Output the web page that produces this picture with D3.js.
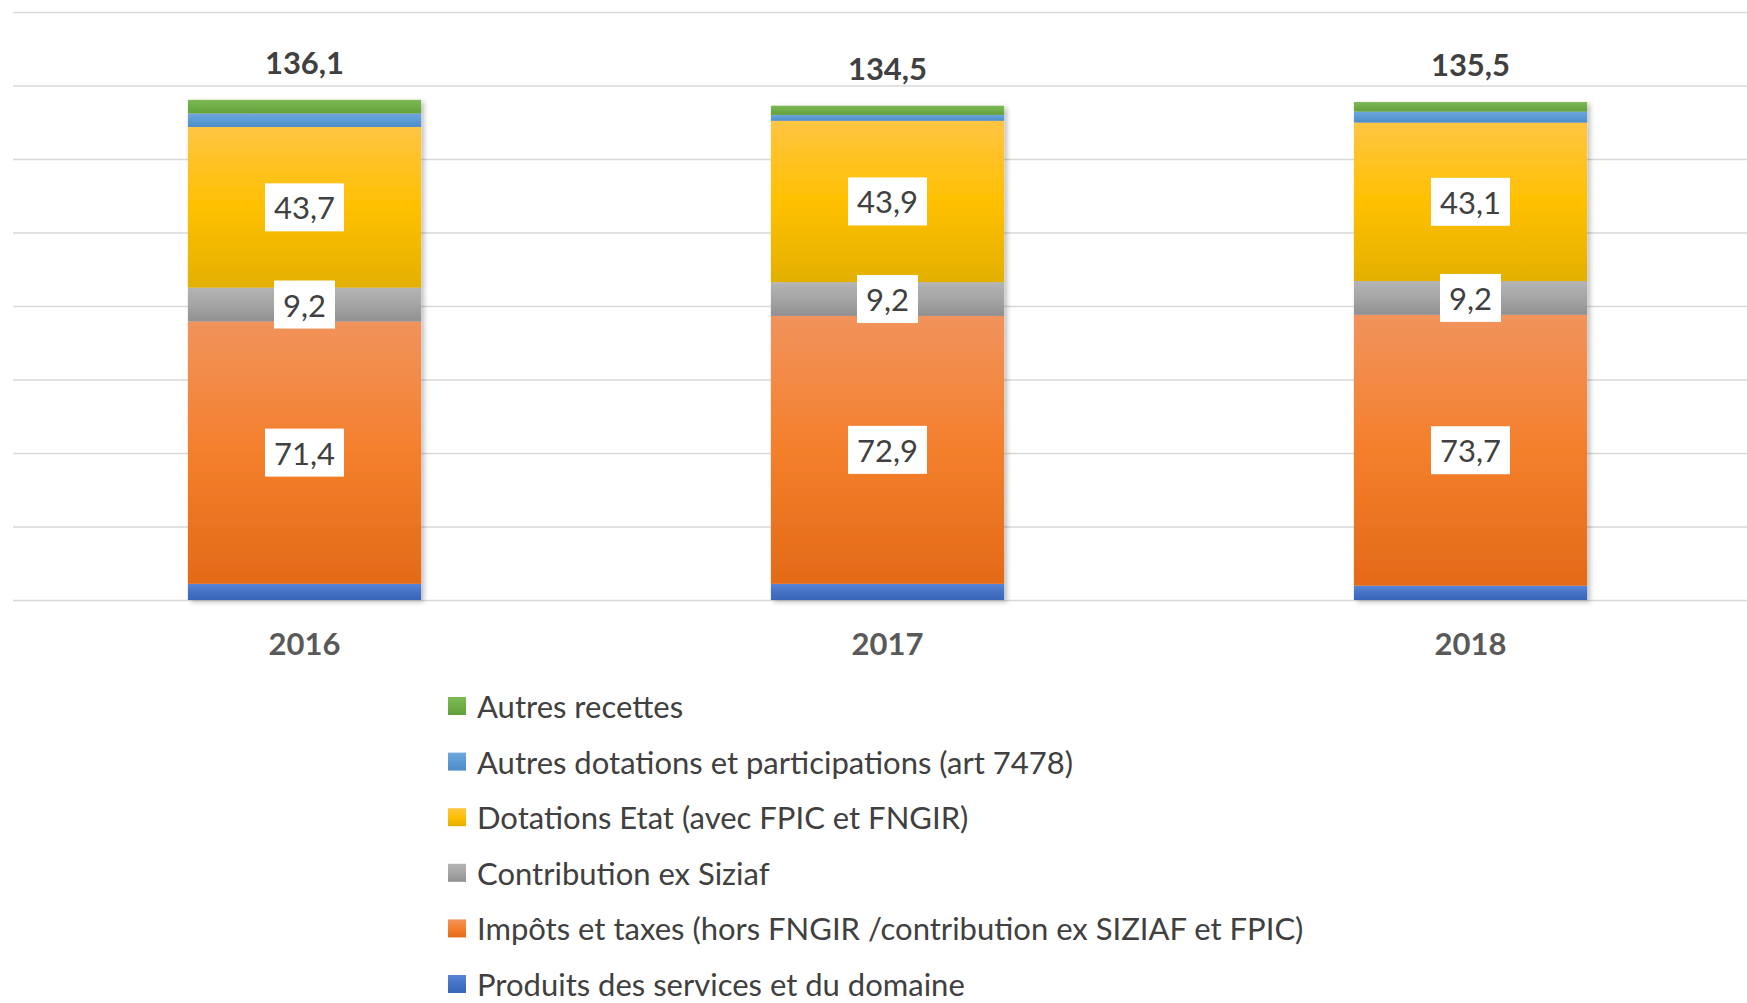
<!DOCTYPE html>
<meta charset="utf-8">
<style>
  body { margin: 0; background: #fff; }
  text { font-family: Lato, "Open Sans", sans-serif; }
</style>
<svg width="1747" height="1003"></svg>
<script src="https://d3js.org/d3.v7.min.js"></script>
<script>

    var years = ["2016", "2017", "2018"];

    // series, bottom to top
    var seriesNames = [
        "Produits des services et du domaine",
        "Impôts et taxes (hors FNGIR /contribution ex SIZIAF et FPIC)",
        "Contribution ex Siziaf",
        "Dotations Etat (avec FPIC et FNGIR)",
        "Autres dotations et participations (art 7478)",
        "Autres recettes"
    ];
    var produits = [4.4, 4.4, 3.9];
    var impots = [71.4, 72.9, 73.7];
    var siziaf = [9.2, 9.2, 9.2];
    var dotations = [43.7, 43.9, 43.1];
    var autresDot = [3.7, 1.6, 3.0];
    var autresRec = [3.7, 2.5, 2.6];
    var totals = ["136,1", "134,5", "135,5"];

    // gradient stops: top, middle, bottom
    var colors = [
        ["#5a85d6", "#4472c4", "#3864b8"],
        ["#f1935c", "#f47f2c", "#e36a17"],
        ["#b4b4b4", "#a5a5a5", "#909090"],
        ["#ffc543", "#ffc000", "#e3b000"],
        ["#6ea6dc", "#5b9bd5", "#4e8cc6"],
        ["#7cb957", "#70ad47", "#62a03b"]
    ];
    var labelled = [false, true, true, true, false, false];

    var svg = d3.select("svg"),
        width = +svg.attr("width"),
        height = +svg.attr("height");

    var allSeries = [produits, impots, siziaf, dotations, autresDot, autresRec];
    var rows = years.map(function (y, i) {
        var r = { year: y };
        allSeries.forEach(function (s, k) { r["s" + k] = s[i]; });
        return r;
    });
    var keys = allSeries.map(function (s, k) { return "s" + k; });
    var stacked = d3.stack().keys(keys)(rows);

    var x = d3.scaleBand().domain(years).range([13, 1762]).paddingInner(0.6).paddingOuter(0.3);
    var y = d3.scaleLinear().domain([0, 160]).range([600, 12]);

    var defs = svg.append("defs");
    colors.forEach(function (c, k) {
        var g = defs.append("linearGradient").attr("id", "g" + k)
            .attr("x1", 0).attr("y1", 0).attr("x2", 0).attr("y2", 1);
        g.append("stop").attr("offset", "0%").attr("stop-color", c[0]);
        g.append("stop").attr("offset", "50%").attr("stop-color", c[1]);
        g.append("stop").attr("offset", "100%").attr("stop-color", c[2]);
    });
    var shadow = defs.append("filter").attr("id", "shadow")
        .attr("x", "-10%").attr("y", "-10%").attr("width", "130%").attr("height", "130%");
    shadow.append("feDropShadow").attr("dx", 3).attr("dy", 2).attr("stdDeviation", 2.5)
        .attr("flood-color", "#000").attr("flood-opacity", 0.25);

    // gridlines
    svg.append("g")
        .attr("transform", "translate(13,0)")
        .call(d3.axisLeft(y).tickValues(d3.range(0, 161, 20)).tickSize(-(width - 13)).tickFormat(""))
        .call(function (g) {
            g.select(".domain").remove();
            g.selectAll(".tick line").attr("stroke", "#d9d9d9").attr("stroke-width", 1.5);
        });

    // bars
    var bars = svg.append("g");
    years.forEach(function (yr, i) {
        var grp = bars.append("g").attr("filter", "url(#shadow)");
        stacked.forEach(function (layer, k) {
            var d = layer[i];
            grp.append("rect")
                .attr("x", x(yr))
                .attr("width", x.bandwidth())
                .attr("y", y(d[1]))
                .attr("height", y(d[0]) - y(d[1]))
                .attr("fill", "url(#g" + k + ")");
        });
    });

    // segment labels
    var lab = svg.append("g");
    stacked.forEach(function (layer, k) {
        if (!labelled[k]) return;
        layer.forEach(function (d, i) {
            var cx = x(years[i]) + x.bandwidth() / 2,
                cy = (y(d[0]) + y(d[1])) / 2;
            var txt = String(allSeries[k][i]).replace(".", ",");
            var g = lab.append("g");
            var t = g.append("text")
                .attr("x", cx).attr("y", cy)
                .attr("text-anchor", "middle")
                .attr("dominant-baseline", "central")
                .attr("font-size", 31)
                .attr("fill", "#404040")
                .text(txt);
            var w = t.node().getComputedTextLength() + 18;
            g.insert("rect", "text")
                .attr("x", cx - w / 2).attr("y", cy - 24)
                .attr("width", w).attr("height", 48)
                .attr("fill", "#fff");
        });
    });

    // totals
    svg.append("g").selectAll("text")
        .data(years)
        .join("text")
        .attr("x", function (d) { return x(d) + x.bandwidth() / 2; })
        .attr("y", function (d, i) { return y(stacked[stacked.length - 1][i][1]) - 26; })
        .attr("text-anchor", "middle")
        .attr("font-size", 31)
        .attr("font-weight", "bold")
        .attr("fill", "#404040")
        .text(function (d, i) { return totals[i]; });

    // x axis labels
    svg.append("g")
        .attr("transform", "translate(0,600)")
        .call(d3.axisBottom(x).tickSize(0).tickPadding(33))
        .call(function (g) {
            g.select(".domain").remove();
            g.selectAll("text")
                .attr("font-size", 31)
                .attr("font-weight", "bold")
                .attr("fill", "#595959")
                .attr("font-family", "Lato, sans-serif");
        });

    // legend, top entry = last series
    var legend = svg.append("g").attr("transform", "translate(448,0)");
    var order = d3.range(seriesNames.length).reverse();
    order.forEach(function (k, j) {
        var cy = 706 + j * 55.6;
        legend.append("rect")
            .attr("x", 0).attr("y", cy - 9)
            .attr("width", 18).attr("height", 18)
            .attr("fill", "url(#g" + k + ")");
        legend.append("text")
            .attr("x", 29).attr("y", cy)
            .attr("dominant-baseline", "central")
            .attr("font-size", 31)
            .attr("fill", "#404040")
            .text(seriesNames[k]);
    });

</script>
